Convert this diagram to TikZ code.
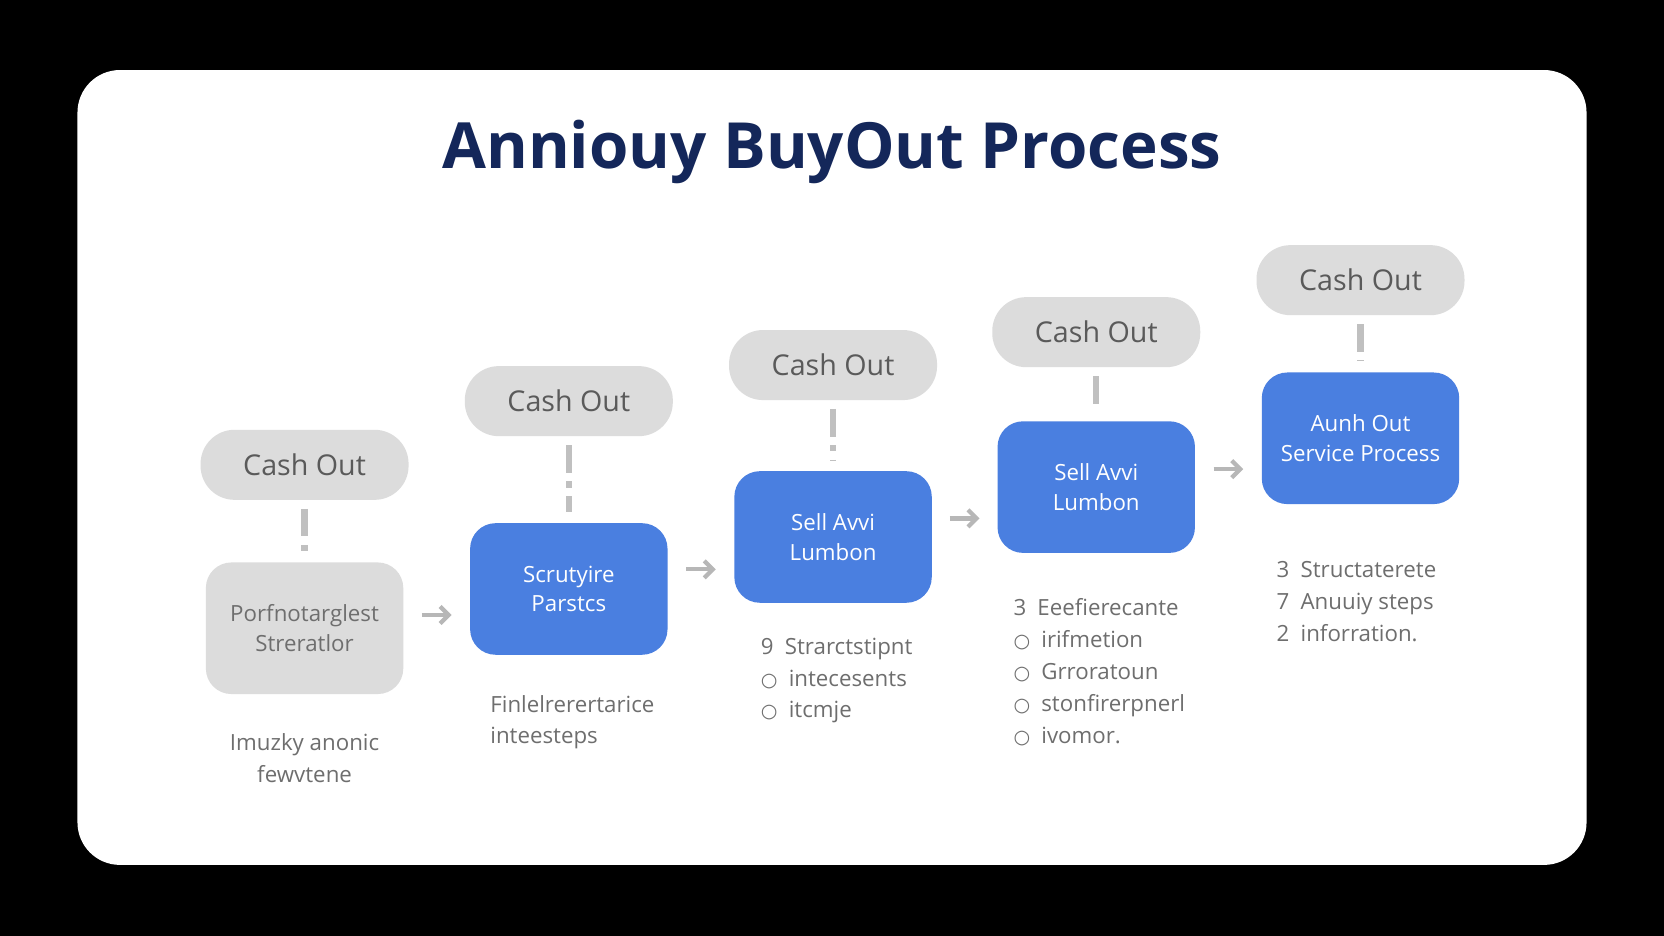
\documentclass[tikz,border=0pt]{standalone}
\usepackage{fontspec}
\setmainfont{Open Sans}
\newfontfamily\symf{DejaVu Sans}
\usetikzlibrary{arrows.meta, positioning, calc}
\definecolor{panelnavy}{HTML}{14275A}
\definecolor{stepblue}{HTML}{4A7FE0}
\definecolor{pillgray}{HTML}{DCDCDC}
\definecolor{inkgray}{HTML}{5A5A5A}
\definecolor{notegray}{HTML}{6E6E6E}
\newcommand{\ring}{{\symf\small ○}}

\begin{document}
\begin{tikzpicture}[x=0.5pt, y=-0.5pt, font=\fontsize{11}{14}\selectfont,
    pill/.style={rectangle, rounded corners=16pt, fill=pillgray, minimum width=98pt,
      minimum height=33pt, text=inkgray, font=\fontsize{13.5}{16}\selectfont},
    stepbox/.style={rectangle, rounded corners=12pt, fill=stepblue, minimum width=93pt,
      minimum height=62pt, text=white, align=center, font=\fontsize{10.5}{14}\selectfont},
    note/.style={text=notegray, align=left, anchor=north west, font=\fontsize{10.5}{15}\selectfont},
    tick/.style={pillgray!70!gray, line width=3pt, dash pattern=on 13pt off 4pt on 3pt off 4pt},
    arr/.style={-{Straight Barb[length=4pt, width=8pt]}, line width=2pt, pillgray!60!gray}]

    % frame
    \fill[black] (0,0) rectangle (1568,882);
    \fill[white, rounded corners=20pt] (73,66) rectangle (1495,815);
    \node (title) [text=panelnavy, font=\fontsize{30}{36}\selectfont\bfseries] at (784,143) {Anniouy BuyOut Process};

    % cash out pills
    \node (c1) [pill] at (287,438) {Cash Out};
    \node (c2) [pill] at (536,378) {Cash Out};
    \node (c3) [pill] at (785,344) {Cash Out};
    \node (c4) [pill] at (1033,313) {Cash Out};
    \node (c5) [pill] at (1282,264) {Cash Out};

    % steps
    \node (b1) [stepbox, fill=pillgray, text=notegray] at (287,592) {Porfnotarglest\\Streratlor};
    \node (b2) [stepbox] at (536,555) {Scrutyire\\Parstcs};
    \node (b3) [stepbox] at (785,506) {Sell Avvi\\Lumbon};
    \node (b4) [stepbox] at (1033,459) {Sell Avvi\\Lumbon};
    \node (b5) [stepbox] at (1282,413) {Aunh Out\\Service Process};

    \foreach \i in {1,...,5} {
      \draw [tick] ($(c\i.south)+(0,8)$) -- ($(b\i.north)+(0,-10)$);
    }
    \foreach \i/\j in {1/2, 2/3, 3/4, 4/5} {
      \coordinate (m\i) at ($(b\i.east)!0.5!(b\j.west)$);
      \draw [arr] ($(m\i)+(-14,6)$) -- ($(m\i)+(14,6)$);
    }

    % notes
    \node (n1) [note, anchor=north, align=center] at (287,684) {Imuzky anonic\\fewvtene};
    \node (n2) [note] at (455,648) {Finlelrerertarice\\inteesteps};
    \node (n3) [note] at (710,594) {9\enspace Strarctstipnt\\\ring\enspace intecesents\\\ring\enspace itcmje};
    \node (n4) [note] at (948,557) {3\enspace Eeefierecante\\\ring\enspace irifmetion\\\ring\enspace Grroratoun\\\ring\enspace stonfirerpnerl\\\ring\enspace ivomor.};
    \node (n5) [note] at (1196,522) {3\enspace Structaterete\\7\enspace Anuuiy steps\\2\enspace inforration.};
\end{tikzpicture}
\end{document}
